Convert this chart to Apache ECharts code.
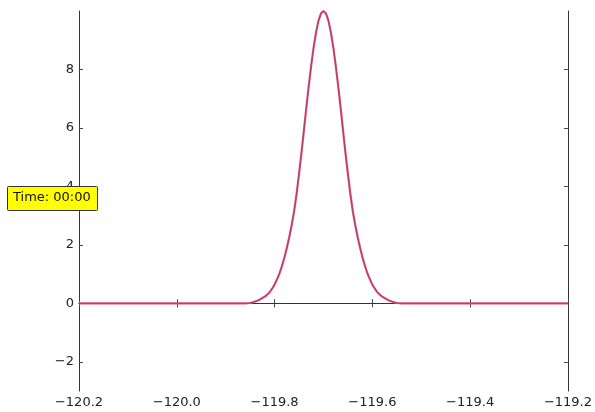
<!DOCTYPE html>
<html>
<head>
<meta charset="utf-8">
<script src="https://cdn.jsdelivr.net/npm/echarts@6/dist/echarts.min.js"></script>
<style>
  html, body { margin: 0; padding: 0; background: #fff; }
  #chart { width: 595px; height: 412px; }
</style>
</head>
<body>
<div id="chart"></div>
<script>
// values
const xValues = [-120.2, -119.86, -119.85, -119.845, -119.84, -119.835, -119.83, -119.825, -119.82, -119.815,
  -119.81, -119.805, -119.8, -119.795, -119.79, -119.785, -119.78, -119.775, -119.77, -119.765,
  -119.76, -119.755, -119.75, -119.745, -119.74, -119.735, -119.73, -119.725, -119.72, -119.715,
  -119.71, -119.705, -119.7, -119.695, -119.69, -119.685, -119.68, -119.675, -119.67, -119.665,
  -119.66, -119.655, -119.65, -119.645, -119.64, -119.635, -119.63, -119.625, -119.62, -119.615,
  -119.61, -119.605, -119.6, -119.595, -119.59, -119.585, -119.58, -119.575, -119.57, -119.565,
  -119.56, -119.555, -119.55, -119.54, -119.2];
const yValues = [0, 0, 0.01, 0.03, 0.06, 0.09, 0.13, 0.18, 0.23, 0.3,
  0.38, 0.5, 0.64, 0.82, 1.02, 1.27, 1.56, 1.89, 2.26, 2.68,
  3.15, 3.74, 4.42, 5.15, 5.92, 6.7, 7.45, 8.15, 8.77, 9.28,
  9.68, 9.92, 10.0, 9.92, 9.68, 9.28, 8.77, 8.15, 7.45, 6.7,
  5.92, 5.15, 4.42, 3.74, 3.15, 2.68, 2.26, 1.89, 1.56, 1.27,
  1.02, 0.82, 0.64, 0.5, 0.38, 0.3, 0.23, 0.18, 0.13, 0.09,
  0.06, 0.03, 0.01, 0, 0];
const xTicks = [-120.2, -120.0, -119.8, -119.6, -119.4, -119.2];
const yTicks = [-2, 0, 2, 4, 6, 8];
const timeLabel = 'Time: 00:00';

const points = xValues.map((x, i) => [x, yValues[i]]);
const fmtX = v => (v < 0 ? '\u2212' : '') + Math.abs(v).toFixed(1);
const fmtY = v => (v < 0 ? '\u2212' : '') + Math.abs(v);

const chart = echarts.init(document.getElementById('chart'), null, { renderer: 'canvas' });

const frame = { show: true, lineStyle: { color: '#333', width: 1 } };
const tick = { show: true, inside: true, length: 4, lineStyle: { color: '#444' } };
const labelStyle = { color: '#222', fontSize: 13, fontFamily: 'DejaVu Sans' };

chart.setOption({
  animation: false,
  backgroundColor: '#fff',
  grid: { left: 79, right: 26, top: 11, bottom: 21, containLabel: false },
  xAxis: [
    {
      type: 'value', min: -120.2, max: -119.2, position: 'bottom',
      axisLine: frame, splitLine: { show: false },
      axisTick: Object.assign({ customValues: xTicks }, tick),
      axisLabel: Object.assign({ customValues: xTicks, formatter: fmtX, margin: 5 }, labelStyle)
    },
    {
      type: 'value', min: -120.2, max: -119.2, position: 'top',
      axisLine: frame, splitLine: { show: false },
      axisTick: Object.assign({ customValues: xTicks }, tick),
      axisLabel: { show: false }
    }
  ],
  yAxis: [
    {
      type: 'value', min: -3, max: 10, position: 'left',
      axisLine: frame, splitLine: { show: false },
      axisTick: Object.assign({ customValues: yTicks }, tick),
      axisLabel: Object.assign({ customValues: yTicks, formatter: fmtY, margin: 5 }, labelStyle)
    },
    {
      type: 'value', min: -3, max: 10, position: 'right',
      axisLine: frame, splitLine: { show: false },
      axisTick: Object.assign({ customValues: yTicks }, tick),
      axisLabel: { show: false }
    }
  ],
  series: [
    {
      type: 'line', data: points, showSymbol: false,
      lineStyle: { color: '#e0507f', width: 2.2 }
    },
    {
      type: 'line', data: points, showSymbol: false,
      lineStyle: { color: '#6a3550', width: 0.8, opacity: 0.6 }
    }
  ],
  graphic: [
    {
      type: 'rect', left: 7, top: 186, z: 100,
      shape: { width: 90, height: 24, r: 1 },
      style: { fill: '#ffff00', stroke: '#333', lineWidth: 1 }
    },
    {
      type: 'text', left: 13, top: 191, z: 101,
      style: { text: timeLabel, fill: '#111', fontSize: 13, fontFamily: 'DejaVu Sans' }
    }
  ]
});
</script>
</body>
</html>
